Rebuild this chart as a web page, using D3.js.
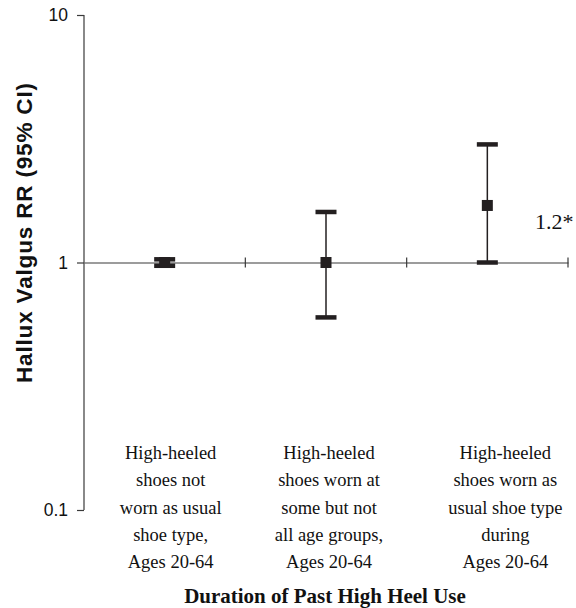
<!DOCTYPE html>
<html>
<head>
<meta charset="utf-8">
<script src="https://cdn.jsdelivr.net/npm/d3@7"></script>
<style>
  html, body { margin: 0; padding: 0; background: #fff; }
  svg { display: block; }
</style>
</head>
<body>
<svg id="chart" width="576" height="608"></svg>
<script>
// ---- data ----
const categories = ["notUsual", "someAges", "usual"];
const categoryLabels = [
  ["High-heeled", "shoes not", "worn as usual", "shoe type,", "Ages 20-64"],
  ["High-heeled", "shoes worn at", "some but not", "all age groups,", "Ages 20-64"],
  ["High-heeled", "shoes worn as", "usual shoe type", "during", "Ages 20-64"]
];
const rr = [1.0, 1.0, 1.7];
const ciLow = [0.97, 0.6, 1.0];
const ciHigh = [1.03, 1.6, 3.0];
const yTicks = [0.1, 1, 10];
const yTickLabels = ["0.1", "1", "10"];
const trendLabel = "1.2*";
const yTitle = "Hallux Valgus RR (95% CI)";
const xTitle = "Duration of Past High Heel Use";

// ---- drawing ----
const svg = d3.select("#chart");
const ink = "#231f20";
const axisCol = "#3a3a3a";
const serif = "Liberation Serif, Times New Roman, serif";
const sans = "Liberation Sans, Arial, sans-serif";

const y = d3.scaleLog().domain([0.1, 10]).range([510, 15]);
const x = d3.scaleBand().domain(categories).range([84, 568]).padding(0);

// y axis
const yAxis = d3.axisLeft(y).tickValues(yTicks)
  .tickFormat((d, i) => yTickLabels[i]).tickSize(7).tickPadding(9);
const gy = svg.append("g").attr("transform", "translate(84,0)").call(yAxis);
gy.select(".domain").attr("d", `M0,${y(10)}V${y(0.1)}`).attr("stroke", axisCol).attr("stroke-width", 1.2);
gy.selectAll(".tick line").attr("stroke", axisCol).attr("stroke-width", 1.2);
gy.selectAll(".tick text").attr("font-family", sans)
  .attr("font-size", 17.5).attr("fill", "#111");

// reference line at RR = 1 with category boundary ticks
const xAxis = d3.axisBottom(x).tickValues([]).tickSizeOuter(0);
const gx = svg.append("g").attr("transform", `translate(0,${y(1)})`).call(xAxis);
gx.select(".domain").attr("stroke", axisCol).attr("stroke-width", 1.2);
const boundaries = categories.map(c => x(c) + x.bandwidth());
gx.selectAll("line.bt").data(boundaries).enter().append("line")
  .attr("class", "bt")
  .attr("x1", d => d).attr("x2", d => d).attr("y1", -5).attr("y2", 5)
  .attr("stroke", axisCol).attr("stroke-width", 1.2);

// error bars
const cx = i => x(categories[i]) + x.bandwidth() / 2;
const capW = 21, capH = 4.5, mk = 11;
const g = svg.append("g");
categories.forEach((c, i) => {
  g.append("line")
    .attr("x1", cx(i)).attr("x2", cx(i))
    .attr("y1", y(ciHigh[i])).attr("y2", y(ciLow[i]))
    .attr("stroke", ink).attr("stroke-width", 1.5);
  [ciHigh[i], ciLow[i]].forEach(v => {
    g.append("rect")
      .attr("x", cx(i) - capW / 2).attr("y", y(v) - capH / 2)
      .attr("width", capW).attr("height", capH).attr("fill", ink);
  });
  g.append("rect")
    .attr("x", cx(i) - mk / 2).attr("y", y(rr[i]) - mk / 2)
    .attr("width", mk).attr("height", mk).attr("fill", ink);
});

// trend annotation
svg.append("text")
  .attr("x", 535).attr("y", 229)
  .attr("font-family", serif)
  .attr("font-size", 22).attr("fill", "#111")
  .text(trendLabel);

// category labels
const labelShift = [6, 3, 18];
categoryLabels.forEach((lines, i) => {
  const t = svg.append("text")
    .attr("text-anchor", "middle")
    .attr("font-family", serif)
    .attr("font-size", 18.5).attr("fill", "#111");
  lines.forEach((ln, j) => {
    t.append("tspan")
      .attr("x", cx(i) + labelShift[i])
      .attr("y", 459 + j * 27.3)
      .text(ln);
  });
});

// axis titles
svg.append("text")
  .attr("x", 325).attr("y", 603)
  .attr("text-anchor", "middle")
  .attr("font-family", serif)
  .attr("font-weight", "bold").attr("font-size", 21).attr("fill", "#111")
  .text(xTitle);

svg.append("text")
  .attr("transform", `translate(32,233) rotate(-90)`)
  .attr("text-anchor", "middle")
  .attr("font-family", sans)
  .attr("font-weight", "bold").attr("font-size", 22.5).attr("fill", "#111")
  .attr("textLength", 300).attr("lengthAdjust", "spacing")
  .text(yTitle);
</script>
</body>
</html>
